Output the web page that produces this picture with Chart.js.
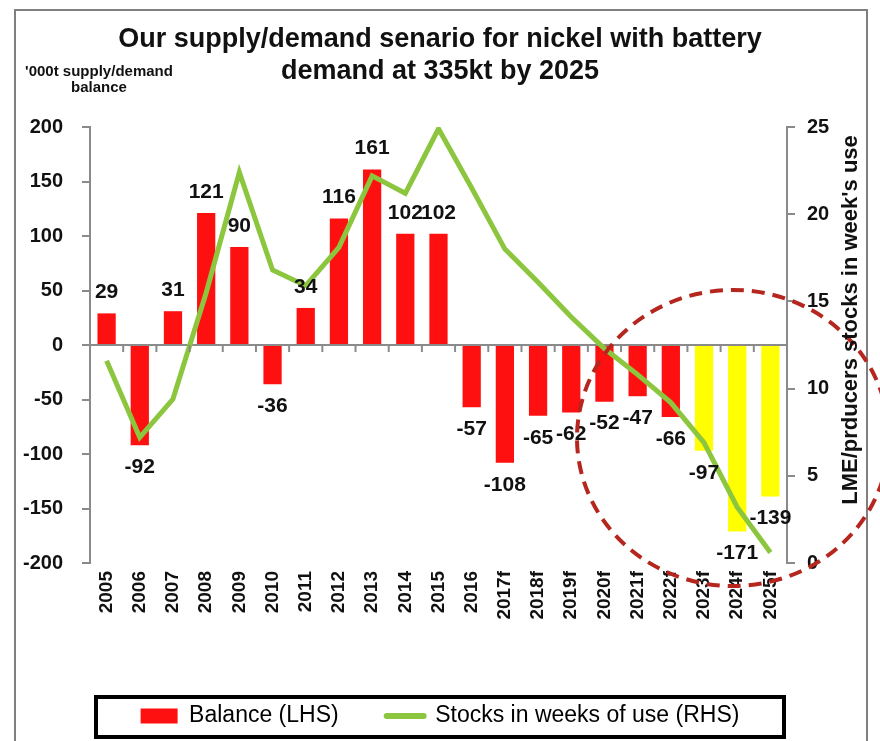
<!DOCTYPE html>
<html>
<head>
<meta charset="utf-8">
<script src="https://cdn.jsdelivr.net/npm/chart.js@4.4.1/dist/chart.umd.min.js"></script>
<style>
  html, body { margin: 0; padding: 0; background: #fff; }
  #wrap { width: 880px; height: 741px; }
</style>
</head>
<body>
<div id="wrap"><canvas id="nickelChart" width="880" height="741"></canvas></div>
<script>
// Chart data
const years = ["2005", "2006", "2007", "2008", "2009", "2010", "2011", "2012", "2013", "2014", "2015", "2016",
  "2017f", "2018f", "2019f", "2020f", "2021f", "2022f", "2023f", "2024f", "2025f"];
const balance = [29, -92, 31, 121, 90, -36, 34, 116, 161, 102, 102, -57, -108, -65, -62, -52, -47, -66, -97, -171, -139];
const stocksWeeks = [11.6, 7.2, 9.4, 15.5, 22.4, 16.8, 15.9, 18.1, 22.2, 21.2, 24.9, 21.5,
  18.0, 16.1, 14.1, 12.3, 10.8, 9.2, 6.9, 3.2, 0.6];
const batteryYears = ["2023f", "2024f", "2025f"];

const FONT = "'Liberation Sans', Arial, sans-serif";
const RED = "#ff1010";
const YELLOW = "#ffff00";
const GREEN = "#8cc63e";
const AXIS_GREY = "#8a8a8a";

Chart.defaults.font.family = FONT;
Chart.defaults.color = "#000";

// frame, zero-line ticks, value labels, circle, legend box, axis titles
const decorations = {
  id: "decorations",
  beforeDraw(chart) {
    const { ctx } = chart;
    ctx.save();
    ctx.fillStyle = "#fff";
    ctx.fillRect(0, 0, chart.width, chart.height);
    ctx.strokeStyle = "#7f7f7f";
    ctx.lineWidth = 2;
    ctx.strokeRect(15, 10, 852, 800);
    ctx.restore();
  },
  afterDatasetsDraw(chart) {
    const { ctx } = chart;
    const x = chart.scales.x;
    const y0 = chart.scales.y.getPixelForValue(0);
    ctx.save();
    // small ticks on the zero line between categories
    ctx.strokeStyle = AXIS_GREY;
    ctx.lineWidth = 2;
    for (let k = 1; k < years.length; k++) {
      const px = (x.getPixelForValue(k - 1) + x.getPixelForValue(k)) / 2;
      ctx.beginPath();
      ctx.moveTo(px, y0);
      ctx.lineTo(px, y0 + 7);
      ctx.stroke();
    }
    // value labels
    ctx.fillStyle = "#111";
    ctx.font = "bold 21px " + FONT;
    ctx.textAlign = "center";
    ctx.textBaseline = "middle";
    chart.getDatasetMeta(0).data.forEach((bar, i) => {
      const v = balance[i];
      ctx.fillText(String(v), bar.x, v >= 0 ? bar.y - 21 : bar.y + 22);
    });
    ctx.restore();
  },
  afterDraw(chart) {
    const { ctx } = chart;
    ctx.save();
    // dashed circle
    ctx.strokeStyle = "#b5261e";
    ctx.lineWidth = 4;
    ctx.setLineDash([13, 8]);
    ctx.beginPath();
    ctx.ellipse(733, 438, 156, 148, 0, 0, Math.PI * 2);
    ctx.stroke();
    ctx.setLineDash([]);

    // legend frame
    ctx.strokeStyle = "#000";
    ctx.lineWidth = 4;
    ctx.strokeRect(96, 697, 688, 40);

    // axis titles
    ctx.fillStyle = "#111";
    ctx.textAlign = "center";
    ctx.textBaseline = "middle";
    ctx.font = "bold 15px " + FONT;
    ctx.fillText("'000t supply/demand", 99, 72);
    ctx.fillText("balance", 99, 88);

    ctx.translate(851, 320);
    ctx.rotate(-Math.PI / 2);
    ctx.font = "bold 22px " + FONT;
    ctx.fillText("LME/prducers stocks in week's use", 0, 0);
    ctx.restore();
  }
};

const ctx = document.getElementById("nickelChart").getContext("2d");
new Chart(ctx, {
  data: {
    labels: years,
    datasets: [
      {
        type: "bar",
        label: "Balance (LHS)",
        data: balance,
        backgroundColor: years.map(y => batteryYears.includes(y) ? YELLOW : RED),
        barPercentage: 0.55,
        categoryPercentage: 1,
        yAxisID: "y",
        order: 2
      },
      {
        type: "line",
        label: "Stocks in weeks of use (RHS)",
        data: stocksWeeks,
        borderColor: GREEN,
        backgroundColor: GREEN,
        borderWidth: 5,
        pointRadius: 0,
        tension: 0,
        yAxisID: "y1",
        order: 1
      }
    ]
  },
  options: {
    responsive: false,
    animation: false,
    layout: { padding: { top: 0, left: 0, right: 0, bottom: 3.5 } },
    scales: {
      x: {
        offset: true,
        grid: { display: false, drawTicks: false },
        border: { display: false },
        ticks: {
          autoSkip: false,
          minRotation: 90,
          maxRotation: 90,
          padding: 8,
          color: "#111",
          font: { size: 19, weight: "bold" }
        },
        afterFit(scale) { scale.height = 93.5; }
      },
      y: {
        position: "left",
        min: -200,
        max: 200,
        ticks: {
          stepSize: 50,
          padding: 19,
          color: "#111",
          font: { size: 20, weight: "bold" }
        },
        grid: {
          drawOnChartArea: true,
          color: c => (c.tick && c.tick.value === 0 ? AXIS_GREY : "rgba(0,0,0,0)"),
          lineWidth: 2,
          tickColor: AXIS_GREY,
          tickLength: 8
        },
        border: { color: AXIS_GREY, width: 2 },
        afterFit(scale) { scale.width = 90; }
      },
      y1: {
        position: "right",
        min: 0,
        max: 25,
        ticks: {
          stepSize: 5,
          padding: 12,
          color: "#111",
          font: { size: 20, weight: "bold" }
        },
        grid: { drawOnChartArea: false, color: AXIS_GREY, tickLength: 8, lineWidth: 2 },
        border: { color: AXIS_GREY, width: 2 },
        afterFit(scale) { scale.width = 93; }
      }
    },
    plugins: {
      title: {
        display: true,
        text: ["Our supply/demand senario for nickel with battery", "demand at 335kt by 2025"],
        color: "#111",
        font: { size: 27, weight: "bold", lineHeight: 1.15 },
        padding: { top: 24.5, bottom: 40.4 }
      },
      legend: {
        display: true,
        position: "bottom",
        labels: {
          usePointStyle: true,
          pointStyleWidth: 37,
          boxHeight: 15,
          padding: 48,
          color: "#111",
          font: { size: 23 },
          generateLabels(chart) {
            const ds = chart.data.datasets;
            return [
              { text: ds[0].label, fillStyle: RED, strokeStyle: RED, lineWidth: 0, pointStyle: "rect", datasetIndex: 0 },
              { text: ds[1].label, fillStyle: GREEN, strokeStyle: GREEN, lineWidth: 6, lineCap: "round", pointStyle: "line", datasetIndex: 1 }
            ];
          }
        }
      },
      tooltip: { enabled: false }
    }
  },
  plugins: [decorations]
});
</script>
</body>
</html>
